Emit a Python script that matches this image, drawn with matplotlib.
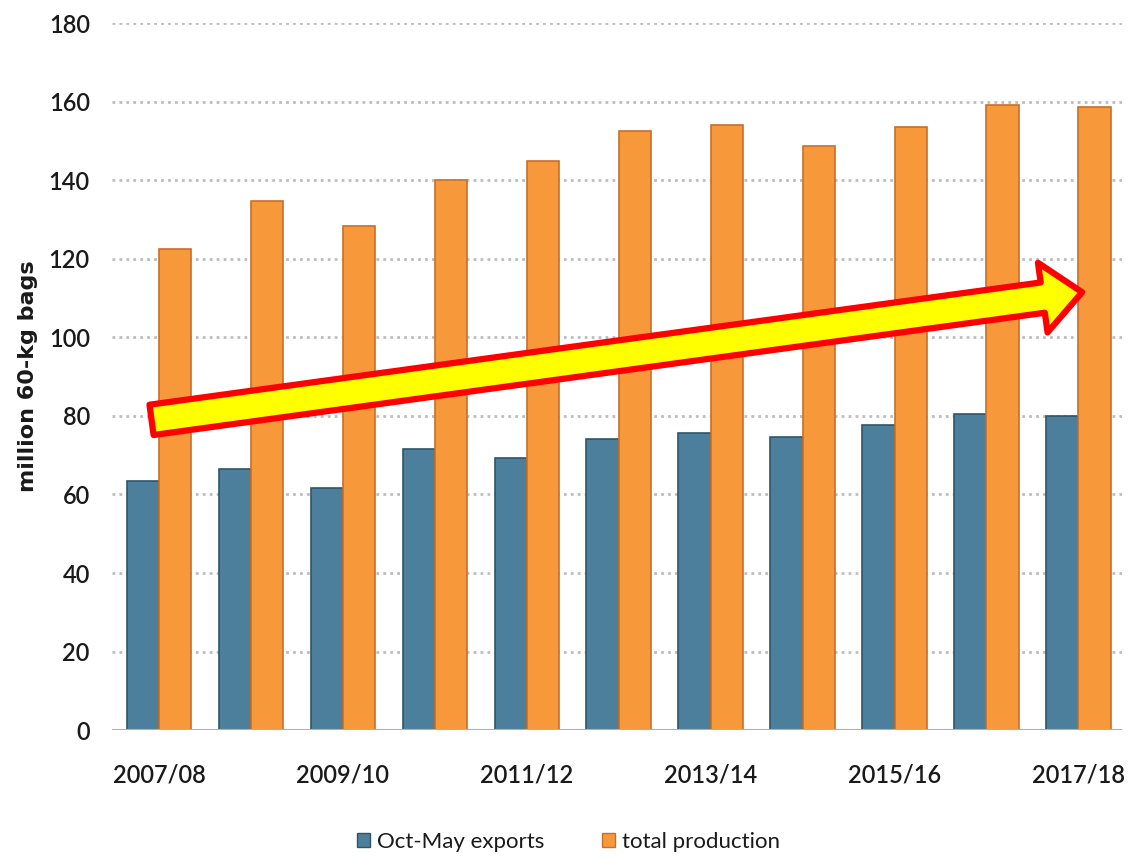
import matplotlib.pyplot as plt
from matplotlib.patches import FancyArrowPatch, Patch
import numpy as np

seasons = ["2007/08", "2008/09", "2009/10", "2010/11", "2011/12", "2012/13",
           "2013/14", "2014/15", "2015/16", "2016/17", "2017/18"]
exports = [63.4, 66.4, 61.7, 71.6, 69.3, 74.2, 75.7, 74.6, 77.6, 80.4, 80.0]
production = [122.6, 134.7, 128.4, 140.0, 145.0, 152.5, 154.0, 148.6, 153.6, 159.1, 158.6]
yticks = [0, 20, 40, 60, 80, 100, 120, 140, 160, 180]

blue = "#4b7f9c"
orange = "#f7983b"
narrow = ["Lato", "DejaVu Sans"]

fig = plt.figure(figsize=(11.37, 8.57), dpi=100)
ax = fig.add_axes([0.0985, 0.148, 0.888, 0.825])

x = np.arange(len(seasons))
w = 0.35
ax.bar(x - w / 2, exports, w, color=blue, edgecolor="#2f5568", linewidth=1.2, zorder=3)
ax.bar(x + w / 2, production, w, color=orange, edgecolor="#c7702a", linewidth=1.2, zorder=3)

ax.set_xlim(-0.51, 10.47)
ax.set_ylim(0, 180)
ax.set_yticks(yticks)
ax.set_yticklabels([str(v) for v in yticks], fontsize=17, family=narrow,
                   color="#1a1a1a", fontweight="semibold")
ax.set_xticks(x[::2])
ax.set_xticklabels(seasons[::2], fontsize=17, family=narrow, color="#1a1a1a",
                   fontweight="semibold")
ax.tick_params(length=0)
ax.tick_params(axis="x", pad=24)
ax.tick_params(axis="y", pad=16)

for v in yticks[1:]:
    ax.axhline(v, color="#bdbdbd", lw=2, ls=(0, (1, 1.5)), zorder=1)
ax.axhline(0, color="#b0b0b0", lw=1.5, zorder=4)
for s in ax.spines.values():
    s.set_visible(False)

ax.set_ylabel("million 60-kg bags", fontsize=16, fontweight="bold", labelpad=8,
              color="#1a1a1a")

# big yellow trend arrow
arr = FancyArrowPatch((-0.08, 79), (10.04, 111.5),
                      arrowstyle="simple,head_length=1.3,head_width=2.3,tail_width=1.0",
                      mutation_scale=22, facecolor="#ffff00", edgecolor="#ff0000",
                      linewidth=4.5, zorder=6, shrinkA=0, shrinkB=0)
ax.add_patch(arr)

handles = [Patch(facecolor=blue, edgecolor="#2f5568"),
           Patch(facecolor=orange, edgecolor="#c7702a")]
fig.legend(handles, ["Oct-May exports", "total production"], loc="center",
           bbox_to_anchor=(0.5, 0.018), ncol=2, frameon=False,
           prop={"family": narrow, "size": 16}, handlelength=0.6, handleheight=0.6,
           handletextpad=0.3, columnspacing=2.6, labelcolor="#1a1a1a")

fig.savefig("out.png", dpi=100)
